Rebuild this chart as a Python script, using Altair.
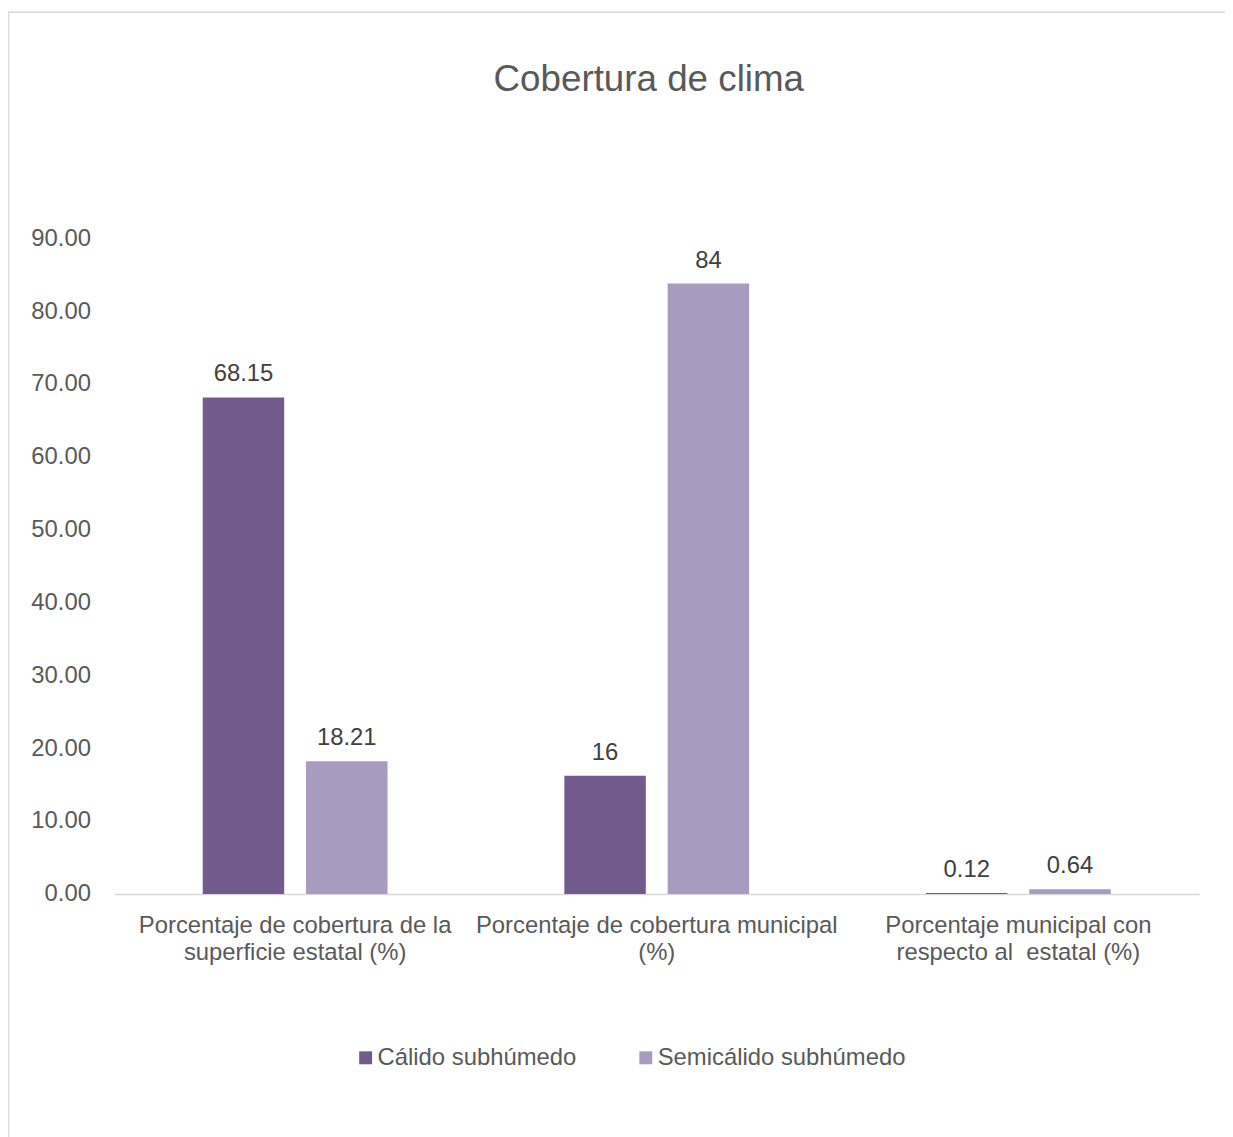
import altair as alt
import pandas as pd

categories = [
    "Porcentaje de cobertura de la\nsuperficie estatal (%)",
    "Porcentaje de cobertura municipal\n(%)",
    "Porcentaje municipal con\nrespecto al  estatal (%)",
]
series_names = ["Cálido subhúmedo", "Semicálido subhúmedo"]
calido_values = [68.15, 16.23, 0.12]
semicalido_values = [18.21, 83.77, 0.64]
calido_labels = ["68.15", "16", "0.12"]
semicalido_labels = ["18.21", "84", "0.64"]
colors = ["#725A8D", "#A99BBF"]

rows = []
for i, c in enumerate(categories):
    rows.append({"cat": c, "serie": series_names[0], "valor": calido_values[i], "etiqueta": calido_labels[i]})
    rows.append({"cat": c, "serie": series_names[1], "valor": semicalido_values[i], "etiqueta": semicalido_labels[i]})
df = pd.DataFrame(rows)

FONT = "Liberation Sans"

x_enc = alt.X(
    "cat:N",
    sort=categories,
    scale=alt.Scale(paddingInner=0, paddingOuter=0),
    axis=alt.Axis(
        title=None,
        labelAngle=0,
        labelExpr="split(replace(datum.value, '  ', '\\u00a0 '), '\\n')",
        labelFont=FONT,
        labelFontSize=24,
        labelColor="#595959",
        labelLineHeight=27,
        labelPadding=20,
        labelLimit=400,
        ticks=False,
        domainColor="#D9D9D9",
        domainWidth=1.5,
        grid=False,
    ),
)
xoff_enc = alt.XOffset(
    "serie:N",
    sort=series_names,
    scale=alt.Scale(paddingInner=0.2115, paddingOuter=0.8558),
)
y_enc = alt.Y(
    "valor:Q",
    scale=alt.Scale(domain=[0, 90], nice=False),
    axis=alt.Axis(
        title=None,
        values=[0, 10, 20, 30, 40, 50, 60, 70, 80, 90],
        format=".2f",
        labelFont=FONT,
        labelFontSize=24,
        labelColor="#595959",
        labelPadding=24,
        ticks=False,
        domain=False,
        grid=False,
    ),
)

bars = alt.Chart(df).mark_bar().encode(
    x=x_enc,
    xOffset=xoff_enc,
    y=y_enc,
    color=alt.Color(
        "serie:N",
        sort=series_names,
        scale=alt.Scale(domain=series_names, range=colors),
        legend=alt.Legend(
            title=None,
            orient="none",
            direction="horizontal",
            legendX=241,
            legendY=813,
            padding=0,
            symbolType="square",
            symbolSize=169,
            symbolStrokeWidth=0,
            labelFont=FONT,
            labelFontSize=24,
            labelColor="#595959",
            labelOffset=0,
            columnPadding=57,
            labelLimit=400,
        ),
    ),
)

labels = alt.Chart(df).mark_text(
    baseline="alphabetic", dy=-16, font=FONT, fontSize=24, color="#404040"
).encode(
    x=alt.X("cat:N", sort=categories),
    xOffset=alt.XOffset("serie:N", sort=series_names),
    y="valor:Q",
    text="etiqueta:N",
)

border = alt.Chart(alt.Data(values=[{"k": 1}])).mark_rect(
    fill=None, stroke="#D9D9D9", strokeWidth=1.5
).encode(
    x=alt.value(-106.5),
    x2=alt.value(3000),
    y=alt.value(-227.5),
    y2=alt.value(3000),
)

chart = alt.layer(border, bars, labels).properties(
    width=1092,
    height=660,
    title=alt.TitleParams(
        "Cobertura de clima",
        anchor="middle",
        frame="group",
        font=FONT,
        fontSize=37,
        fontWeight="normal",
        color="#595959",
        baseline="alphabetic",
        dx=-8,
        offset=-117,
    ),
    autosize=alt.AutoSizeParams(type="none"),
    padding={"left": 107, "top": 228, "right": 26, "bottom": 241},
).configure_view(stroke=None)

chart.save("out.html", embed_options={"renderer": "svg", "actions": False})
